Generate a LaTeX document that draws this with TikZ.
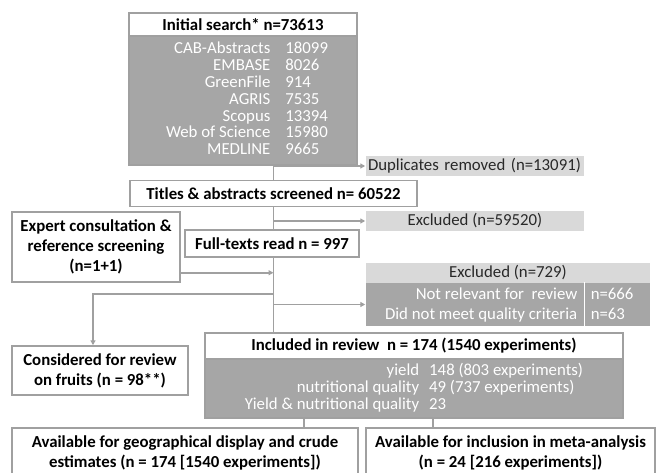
\documentclass[tikz,border=0pt]{standalone}
\usepackage{fontspec}
\setmainfont{Carlito}
\usetikzlibrary{arrows.meta}
\definecolor{panelgray}{RGB}{166,166,166}
\definecolor{palegray}{RGB}{217,217,217}
\definecolor{linegray}{RGB}{160,160,160}
\definecolor{inkgray}{RGB}{40,40,40}
\tikzset{every picture/.style={line width=1.5pt}}
\tikzset{
  whitebox/.style={draw=linegray, fill=white, inner sep=0pt, align=center, font=\fontsize{16.8}{20}\selectfont\bfseries},
  panel/.style={draw=linegray, fill=panelgray, inner sep=0pt},
  palebox/.style={fill=palegray, text=inkgray, inner sep=0pt},
  celltext/.style={text=white, inner sep=0pt},
  flow/.style={draw=linegray},
  flowarrow/.style={draw=linegray, -{Triangle[length=5pt,width=5pt]}}
}

\begin{document}
\begin{tikzpicture}[x=1pt,y=1pt,yscale=-1,font=\fontsize{16.8}{16.8}\selectfont]
\useasboundingbox (0,0) rectangle (656,473);
\path[fill=white] (0,0) rectangle (656,473);

% Initial search
\node[panel, minimum width=228pt, minimum height=129pt] (dbpanel) at (243,100.5) {};
\node[whitebox, minimum width=228pt, minimum height=23pt] (search) at (243,24.5) {Initial search* n=73613};
\node[celltext] (dblist) at (247,101) {\begin{tabular}{@{}r@{\hspace{15pt}}l@{}}
CAB-Abstracts & 18099\\
EMBASE & 8026\\
GreenFile & 914\\
AGRIS & 7535\\
Scopus & 13394\\
Web of Science & 15980\\
MEDLINE & 9665
\end{tabular}};

% Side boxes
\node[palebox, minimum width=218pt, minimum height=20pt, text width=214pt, align=left] (dup) at (475,166) {\mbox{Duplicates removed (n=13091)}};
\node[palebox, minimum width=218pt, minimum height=20pt] (excl1) at (475,221) {Excluded (n=59520)};

% Screening
\node[whitebox, minimum width=287pt, minimum height=26pt] (titles) at (273.5,193.5) {Titles \& abstracts screened n= 60522};
\node[whitebox, minimum width=168pt, minimum height=70pt] (expert) at (96,247) {Expert consultation \&\\reference screening\\(n=1+1)};
\node[whitebox, minimum width=174pt, minimum height=27pt] (fulltext) at (272,243.5) {Full-texts read n = 997};

% Excluded after full text
\node[palebox, minimum width=284pt, minimum height=20pt] (excl2head) at (508,273) {Excluded (n=729)};
\node[fill=panelgray, inner sep=0pt, minimum width=284pt, minimum height=43pt] (excl2body) at (508,304.5) {};
\coordinate (divider) at (584,0);
\draw[white, line width=1pt] (divider |- excl2body.north) -- (divider |- excl2body.south);
\node[celltext, anchor=base east] (notrel) at (578,299) {Not relevant for\ \ review};
\node[celltext, anchor=base west] (notreln) at (590,299) {n=666};
\node[celltext, anchor=base east] (quality) at (578,319) {Did not meet quality criteria};
\node[celltext, anchor=base west] (qualityn) at (590,319) {n=63};

% Included
\node[whitebox, minimum width=176pt, minimum height=49pt] (considered) at (100,370.5) {Considered for review\\on fruits (n = 98**)};
\node[panel, minimum width=418pt, minimum height=59pt] (inclbody) at (414,388.5) {};
\node[whitebox, minimum width=418pt, minimum height=26pt] (inclhead) at (414,346) {Included in review\ \ n = 174 (1540 experiments)};
\node[celltext] (incllist) at (414,389) {\begin{tabular}{@{}r@{\hspace{10pt}}l@{}}
yield & 148 (803 experiments)\\
nutritional quality & 49 (737 experiments)\\
Yield \& nutritional quality & 23
\end{tabular}};

% Outcome
\node[whitebox, minimum width=346pt, minimum height=50pt] (geo) at (185,453) {Available for geographical display and crude\\estimates (n = 174 [1540 experiments])};
\node[whitebox, minimum width=289pt, minimum height=50pt] (meta) at (510.5,453) {Available for inclusion in meta-analysis\\(n = 24 [216 experiments])};

% Connections
\coordinate (spine) at (273.5,0);
\draw[flow] (spine |- dbpanel.south) -- (spine |- titles.north);
\draw[flowarrow] (spine |- dup.west) -- (dup.west);
\draw[flow] (spine |- titles.south) -- (spine |- fulltext.north);
\draw[flowarrow] (spine |- excl1.west) -- (excl1.west);
\draw[flow] (spine |- fulltext.south) -- (spine |- inclhead.north);
\coordinate (expertout) at ([yshift=-10pt]expert.south east);
\draw[flowarrow] (expertout) -- (expertout -| spine);
\coordinate (fruitturn) at (93,294);
\draw[flowarrow] (fruitturn -| spine) -- (fruitturn) -- (fruitturn |- considered.north);
\draw[flowarrow] (spine |- excl2body.west) -- (excl2body.west);
\coordinate (geodrop) at (304,0);
\coordinate (metadrop) at (433,0);
\draw[flow] (geodrop |- inclbody.south) -- (geodrop |- geo.north);
\draw[flow] (metadrop |- inclbody.south) -- (metadrop |- meta.north);

\end{tikzpicture}
\end{document}
